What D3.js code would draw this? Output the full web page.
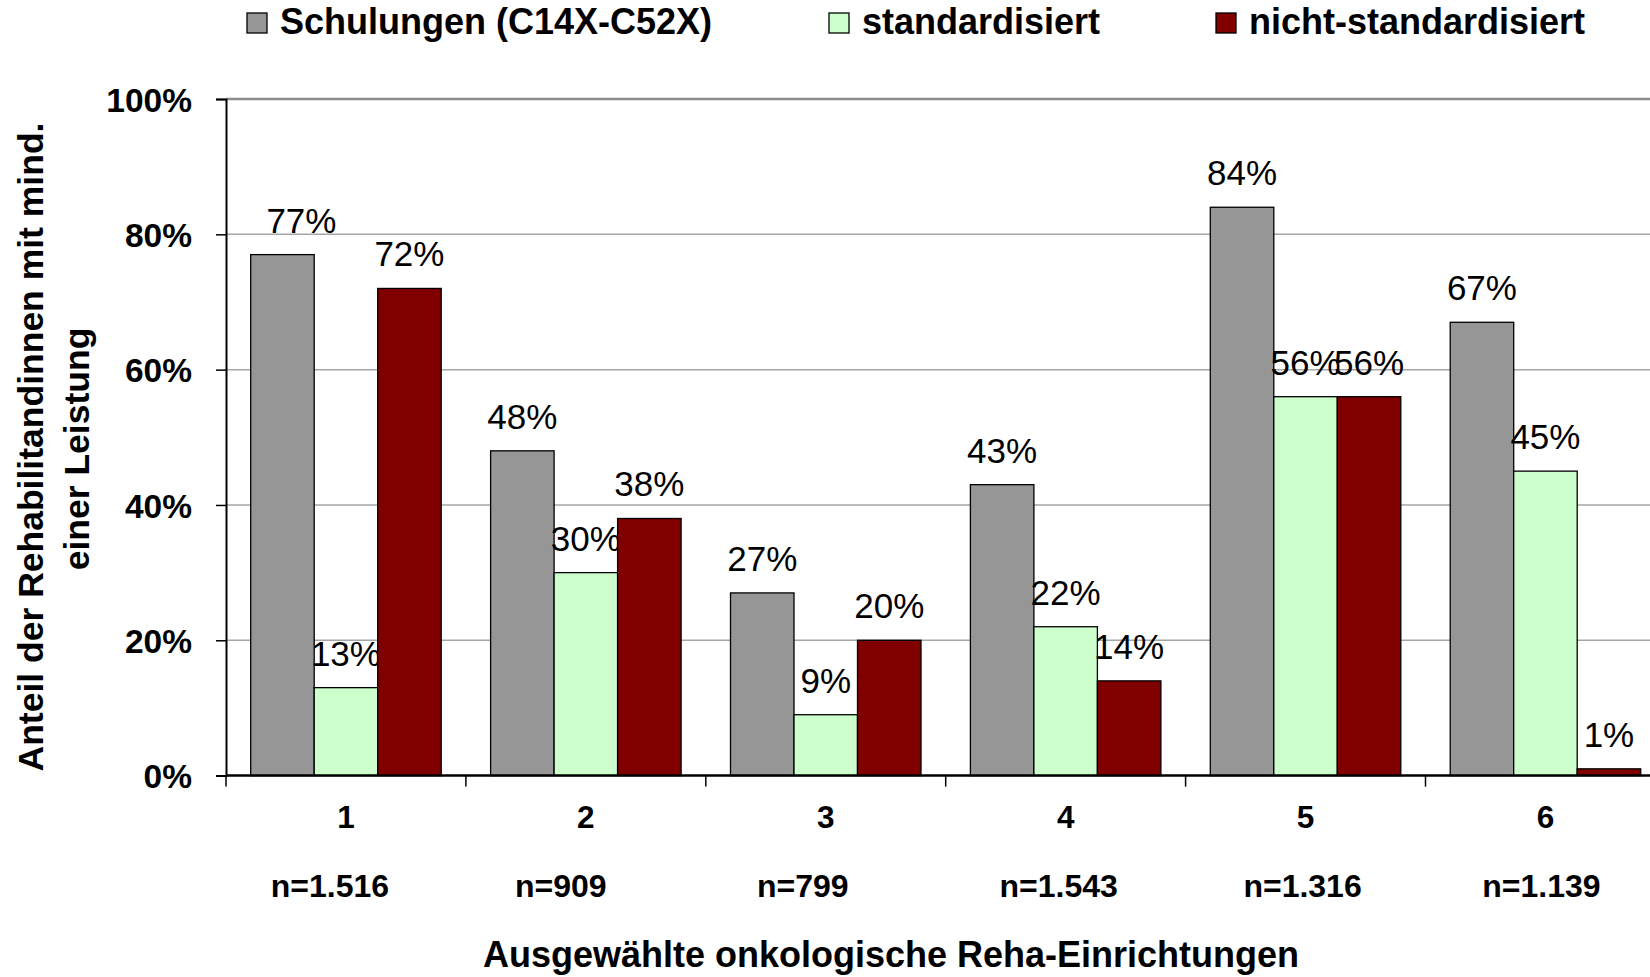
<!DOCTYPE html>
<html>
<head>
<meta charset="utf-8">
<script src="https://cdn.jsdelivr.net/npm/d3@7"></script>
<style>
  html, body { margin: 0; padding: 0; background: #fff; }
  svg { display: block; }
  text { font-family: "Liberation Sans", Arial, sans-serif; }
</style>
</head>
<body>
<svg id="chart" width="1650" height="977"></svg>
<script>
// ---- data ----
const categories = ["1", "2", "3", "4", "5", "6"];
const sampleSizes = ["n=1.516", "n=909", "n=799", "n=1.543", "n=1.316", "n=1.139"];
const seriesNames = ["Schulungen (C14X-C52X)", "standardisiert", "nicht-standardisiert"];
const schulungen = [0.77, 0.48, 0.27, 0.43, 0.84, 0.67];
const standardisiert = [0.13, 0.30, 0.09, 0.22, 0.56, 0.45];
const nichtStandardisiert = [0.72, 0.38, 0.20, 0.14, 0.56, 0.01];
const yTicks = [0, 0.2, 0.4, 0.6, 0.8, 1.0];
const seriesColors = ["#969696", "#CCFFCC", "#800000"];

const seriesValues = [schulungen, standardisiert, nichtStandardisiert];

// ---- layout tweaks (pixel nudges seen in the original) ----
const nLabelShift = [-16, -25, -23, -7, -3, -4];
const valueLabelShift = [[19, 0, 0, 0, 0, 0], [0, 0, 0, 0, 0, 0], [0, 0, 0, 0, 0, 0]];

const svg = d3.select("#chart");
const plotLeft = 226, plotBottom = 775.6, plotTop = 99;
const catStep = 239.9;

const x0 = d3.scaleBand().domain(categories).range([plotLeft, plotLeft + catStep * categories.length]).padding(0);
const x1 = d3.scaleBand().domain(seriesNames).range([0, x0.bandwidth()]).paddingInner(0).paddingOuter(0.389);
const y = d3.scaleLinear().domain([0, 1]).range([plotBottom, plotTop]);

// gridlines
svg.append("g").selectAll("line").data(yTicks.filter(d => d > 0)).join("line")
  .attr("x1", plotLeft).attr("x2", 1650)
  .attr("y1", d => y(d)).attr("y2", d => y(d))
  .attr("stroke", d => d === 1 ? "#8c8c8c" : "#a6a6a6")
  .attr("stroke-width", d => d === 1 ? 2.5 : 1.5);

// y axis
const yAxis = d3.axisLeft(y).tickValues(yTicks).tickFormat(d3.format(".0%")).tickSize(10).tickPadding(24);
const gy = svg.append("g").attr("transform", `translate(${plotLeft},0)`).call(yAxis);
gy.select(".domain").attr("stroke", "#000").attr("stroke-width", 2);
gy.selectAll(".tick line").attr("stroke", "#000").attr("stroke-width", 1.5);
gy.selectAll(".tick text").attr("font-family", "'Liberation Sans', Arial, sans-serif")
  .attr("font-size", 33.5).attr("font-weight", "bold").attr("fill", "#000").attr("dy", "0.36em");

// bars
const groups = svg.append("g").selectAll("g").data(seriesNames).join("g");
groups.selectAll("rect")
  .data((s, si) => categories.map((c, ci) => ({ c, s, si, ci, v: seriesValues[si][ci] })))
  .join("rect")
  .attr("x", d => x0(d.c) + x1(d.s))
  .attr("y", d => y(d.v))
  .attr("width", x1.bandwidth())
  .attr("height", d => y(0) - y(d.v))
  .attr("fill", d => seriesColors[d.si])
  .attr("stroke", "#000").attr("stroke-width", 1.3);

// data labels
groups.selectAll("text")
  .data((s, si) => categories.map((c, ci) => ({ c, s, si, ci, v: seriesValues[si][ci] })))
  .join("text")
  .attr("x", d => x0(d.c) + x1(d.s) + x1.bandwidth() / 2 + valueLabelShift[d.si][d.ci])
  .attr("y", d => y(d.v) - 22)
  .attr("text-anchor", "middle")
  .attr("font-size", 35)
  .attr("fill", "#000")
  .text(d => d3.format(".0%")(d.v));

// x axis line
svg.append("line").attr("x1", plotLeft).attr("x2", 1650).attr("y1", plotBottom).attr("y2", plotBottom)
  .attr("stroke", "#000").attr("stroke-width", 2.5);
// x ticks at category boundaries
svg.append("g").selectAll("line").data(categories).join("line")
  .attr("x1", d => x0(d)).attr("x2", d => x0(d))
  .attr("y1", plotBottom).attr("y2", plotBottom + 11)
  .attr("stroke", "#000").attr("stroke-width", 1.5);

// category labels
svg.append("g").selectAll("text").data(categories).join("text")
  .attr("x", d => x0(d) + x0.bandwidth() / 2)
  .attr("y", 828)
  .attr("text-anchor", "middle").attr("font-size", 31.5).attr("font-weight", "bold")
  .text(d => d);
svg.append("g").selectAll("text").data(categories).join("text")
  .attr("x", (d, i) => x0(d) + x0.bandwidth() / 2 + nLabelShift[i])
  .attr("y", 897)
  .attr("text-anchor", "middle").attr("font-size", 32).attr("font-weight", "bold")
  .text((d, i) => sampleSizes[i]);

// x title
svg.append("text").attr("x", 891).attr("y", 967).attr("text-anchor", "middle")
  .attr("font-size", 36).attr("font-weight", "bold")
  .text("Ausgewählte onkologische Reha-Einrichtungen");

// y title
svg.append("text").attr("transform", "translate(43,447) rotate(-90)")
  .attr("text-anchor", "middle").attr("font-size", 35.5).attr("font-weight", "bold")
  .text("Anteil der Rehabilitandinnen mit mind.");
svg.append("text").attr("transform", "translate(89,449) rotate(-90)")
  .attr("text-anchor", "middle").attr("font-size", 35.5).attr("font-weight", "bold")
  .text("einer Leistung");

// legend
const legendX = [247, 829, 1216];
const lg = svg.append("g").selectAll("g").data(seriesNames).join("g")
  .attr("transform", (d, i) => `translate(${legendX[i]},13)`);
lg.append("rect").attr("width", 20).attr("height", 20)
  .attr("fill", (d, i) => seriesColors[i]).attr("stroke", "#000").attr("stroke-width", 1.3);
lg.append("text").attr("x", 33).attr("y", 21).attr("font-size", 36).attr("font-weight", "bold")
  .text(d => d);
</script>
</body>
</html>
